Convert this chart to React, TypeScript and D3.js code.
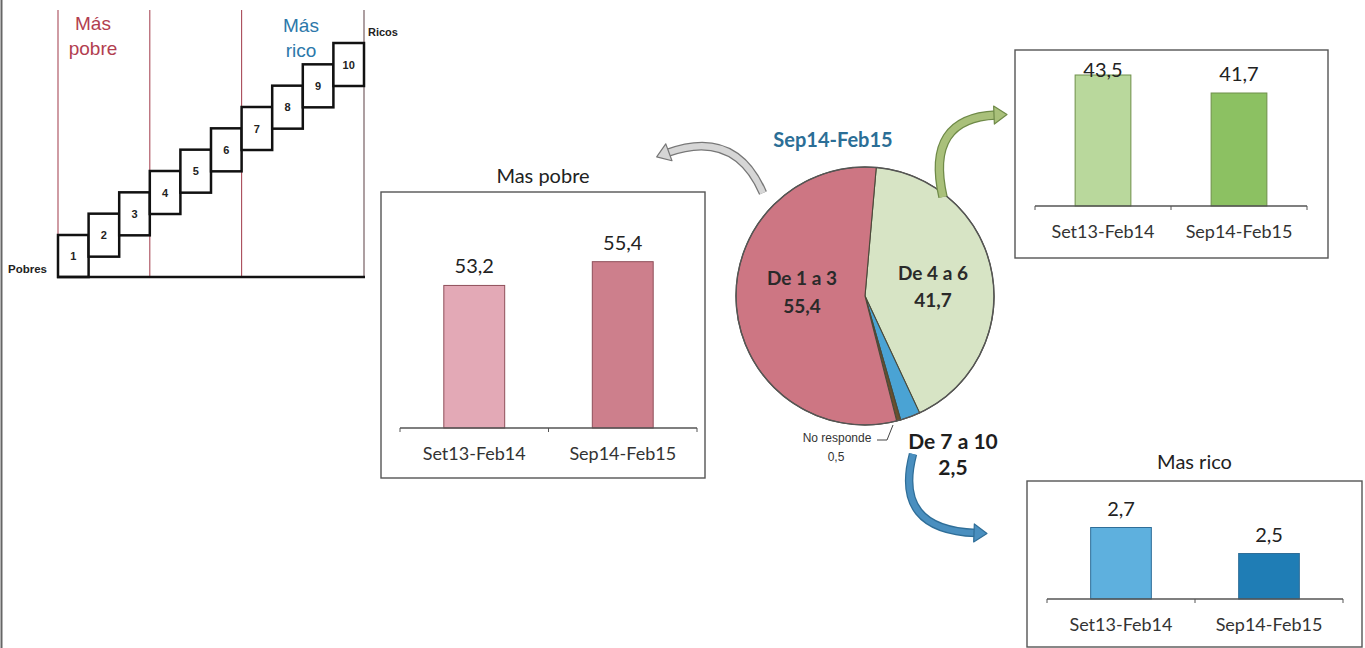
import React from 'react';
import * as d3 from 'd3';

// ---------- data ----------
const deciles = [1, 2, 3, 4, 5, 6, 7, 8, 9, 10];
const groupBounds = [1, 4, 7, 11];
const periods = ['Set13-Feb14', 'Sep14-Feb15'];
const pobreValues = [53.2, 55.4];
const medioValues = [43.5, 41.7];
const ricoValues = [2.7, 2.5];
const pieCategories = ['De 4 a 6', 'De 7 a 10', 'No responde', 'De 1 a 3'];
const pieValues = [41.7, 2.5, 0.5, 55.4];
const pieTitle = 'Sep14-Feb15';

const fmt = (v: number) => v.toFixed(1).replace('.', ',');
const PANEL_FONT = "Lato, 'Open Sans', sans-serif";
const ARIAL = "'Liberation Sans', Arial, sans-serif";

type PanelProps = {
  title?: string;
  titleY?: number;
  box: { x: number; y: number; w: number; h: number };
  axis: { x0: number; x1: number; y: number };
  domain: [number, number];
  rangeTop: number;
  values: number[];
  fills: string[];
  stroke: string;
  labelMinY?: number;
};

function BarPanel(p: PanelProps) {
  const x = d3.scaleBand<string>().domain(periods).range([p.axis.x0, p.axis.x1]).paddingInner(0.59).paddingOuter(0.295);
  const y = d3.scaleLinear().domain(p.domain).range([p.axis.y, p.rangeTop]);
  const mid = (p.axis.x0 + p.axis.x1) / 2;
  return (
    <g>
      {p.title && (
        <text x={p.box.x + p.box.w / 2} y={p.titleY} textAnchor="middle" fontFamily={PANEL_FONT} fontSize={20} fill="#222">
          {p.title}
        </text>
      )}
      <rect x={p.box.x} y={p.box.y} width={p.box.w} height={p.box.h} fill="#fff" stroke="#555" strokeWidth={1.4} />
      {periods.map((c, i) => {
        const v = p.values[i];
        const top = y(v);
        let ly = top - 12;
        if (p.labelMinY !== undefined) ly = Math.max(ly, p.labelMinY);
        return (
          <g key={c}>
            <rect x={x(c)} y={top} width={x.bandwidth()} height={p.axis.y - top} fill={p.fills[i]} stroke={p.stroke} strokeWidth={1} />
            <text x={(x(c) as number) + x.bandwidth() / 2} y={ly} textAnchor="middle" fontFamily={PANEL_FONT} fontSize={20} fill="#222">
              {fmt(v)}
            </text>
            <text x={(x(c) as number) + x.bandwidth() / 2} y={p.axis.y + 32} textAnchor="middle" fontFamily={PANEL_FONT} fontSize={18} fill="#333">
              {c}
            </text>
          </g>
        );
      })}
      <line x1={p.axis.x0} x2={p.axis.x1} y1={p.axis.y} y2={p.axis.y} stroke="#555" strokeWidth={1.3} />
      {[p.axis.x0, mid, p.axis.x1].map((tx, i) => (
        <line key={i} x1={tx} x2={tx} y1={p.axis.y} y2={p.axis.y + 4} stroke="#555" strokeWidth={1} />
      ))}
    </g>
  );
}

function Arrow({ start, ctrl, end, color, outline, width }: { start: number[]; ctrl: number[]; end: number[]; color: string; outline: string; width: number }) {
  const path = d3.path();
  path.moveTo(start[0], start[1]);
  path.quadraticCurveTo(ctrl[0], ctrl[1], end[0], end[1]);
  const dx = end[0] - ctrl[0];
  const dy = end[1] - ctrl[1];
  const len = Math.hypot(dx, dy);
  const ux = dx / len, uy = dy / len;
  const px = -uy, py = ux;
  const tip = [end[0] + ux * 11, end[1] + uy * 11];
  const b1 = [end[0] - ux * 2 + px * 9, end[1] - uy * 2 + py * 9];
  const b2 = [end[0] - ux * 2 - px * 9, end[1] - uy * 2 - py * 9];
  const tri = `M${tip[0]},${tip[1]}L${b1[0]},${b1[1]}L${b2[0]},${b2[1]}Z`;
  return (
    <g>
      <path d={path.toString()} fill="none" stroke={outline} strokeWidth={width + 2.5} strokeLinecap="butt" />
      <path d={path.toString()} fill="none" stroke={color} strokeWidth={width} strokeLinecap="butt" />
      <path d={tri} fill={color} stroke={outline} strokeWidth={1.2} strokeLinejoin="round" />
    </g>
  );
}

export default function App() {
  const W = 1365, H = 648;

  // staircase
  const stepX = d3.scaleLinear().domain([1, 11]).range([58, 364]);
  const stepTop = d3.scaleLinear().domain([1, 10]).range([235, 43]);
  const boxH = 43;
  const baseY = 277;

  // pie
  const cx = 865, cy = 296, R = 129;
  const a0 = (5 * Math.PI) / 180;
  const pieGen = d3.pie<number>().sort(null).value((d) => d).startAngle(a0).endAngle(a0 + 2 * Math.PI);
  const arcs = pieGen(pieValues);
  const arcGen = d3.arc<d3.PieArcDatum<number>>().innerRadius(0).outerRadius(R);
  const pieColors = ['#d7e4c5', '#4aa3d4', '#6b4f2c', '#cd7683'];

  return (
    <div style={{ position: 'absolute', left: 0, top: 0 }}>
      <svg width={W} height={H} style={{ display: 'block', background: '#fff' }}>
        {/* page edge */}
        <line x1={1.5} x2={1.5} y1={0} y2={H} stroke="#666" strokeWidth={2} />

        {/* ---------- staircase ---------- */}
        {groupBounds.map((g, i) => (
          <line key={g} x1={stepX(g)} x2={stepX(g)} y1={10} y2={baseY} stroke={i === 3 ? '#6a5055' : '#a84a58'} strokeWidth={1.1} />
        ))}
        {deciles.map((d) => {
          const x0 = stepX(d), x1 = stepX(d + 1);
          const t = stepTop(d);
          const b = Math.min(t + boxH, baseY);
          return (
            <g key={d}>
              <rect x={x0} y={t} width={x1 - x0} height={b - t} fill="#fff" stroke="#111" strokeWidth={2.5} />
              <text x={(x0 + x1) / 2} y={(t + b) / 2 + 4} textAnchor="middle" fontFamily={ARIAL} fontWeight="bold" fontSize={11} fill="#222">
                {d}
              </text>
            </g>
          );
        })}
        <line x1={stepX(1) - 1} x2={stepX(11) + 1} y1={baseY} y2={baseY} stroke="#111" strokeWidth={2.5} />
        <text x={8} y={273} fontFamily={ARIAL} fontWeight="bold" fontSize={11.5} fill="#222">Pobres</text>
        <text x={368} y={36} fontFamily={ARIAL} fontWeight="bold" fontSize={11} fill="#222">Ricos</text>
        <text x={93} y={30} textAnchor="middle" fontFamily={ARIAL} fontSize={19} fill="#b23e4f">Más</text>
        <text x={93} y={55} textAnchor="middle" fontFamily={ARIAL} fontSize={19} fill="#b23e4f">pobre</text>
        <text x={301} y={32} textAnchor="middle" fontFamily={ARIAL} fontSize={19} fill="#2c78aa">Más</text>
        <text x={301} y={57} textAnchor="middle" fontFamily={ARIAL} fontSize={19} fill="#2c78aa">rico</text>

        {/* ---------- bar panels ---------- */}
        <BarPanel
          title="Mas pobre"
          titleY={183}
          box={{ x: 381, y: 192, w: 324, h: 286 }}
          axis={{ x0: 400, x1: 697, y: 428 }}
          domain={[40, 60]}
          rangeTop={212}
          values={pobreValues}
          fills={['#e3a9b6', '#cd7f8c']}
          stroke="#8f4f5a"
        />
        <BarPanel
          box={{ x: 1015, y: 50, w: 313, h: 208 }}
          axis={{ x0: 1035, x1: 1307, y: 206 }}
          domain={[30.4, 45]}
          rangeTop={60}
          values={medioValues}
          fills={['#b9d89c', '#8cc162']}
          stroke="#6f8f4a"
          labelMinY={77}
        />
        <BarPanel
          title="Mas rico"
          titleY={469}
          box={{ x: 1027, y: 481, w: 335, h: 166 }}
          axis={{ x0: 1047, x1: 1343, y: 599 }}
          domain={[2.15, 2.8]}
          rangeTop={514.5}
          values={ricoValues}
          fills={['#5eb0de', '#1f7db5']}
          stroke="#2f6e98"
        />

        {/* ---------- pie ---------- */}
        <text x={833} y={147} textAnchor="middle" fontFamily={PANEL_FONT} fontWeight="bold" fontSize={20} fill="#2b6e96">{pieTitle}</text>
        <g transform={`translate(${cx},${cy})`}>
          {arcs.map((a, i) => (
            <path key={pieCategories[i]} d={arcGen(a) as string} fill={pieColors[i]} stroke="#4a4a3a" strokeWidth={1.1} />
          ))}
          <circle r={R} fill="none" stroke="#555" strokeWidth={1.4} />
          <text x={68} y={-16} textAnchor="middle" fontFamily={PANEL_FONT} fontWeight="bold" fontSize={19} fill="#2a2a2a">{pieCategories[0]}</text>
          <text x={68} y={11} textAnchor="middle" fontFamily={PANEL_FONT} fontWeight="bold" fontSize={19} fill="#2a2a2a">{fmt(pieValues[0])}</text>
          <text x={-63} y={-11} textAnchor="middle" fontFamily={PANEL_FONT} fontWeight="bold" fontSize={19} fill="#2a2a2a">{pieCategories[3]}</text>
          <text x={-63} y={17} textAnchor="middle" fontFamily={PANEL_FONT} fontWeight="bold" fontSize={19} fill="#2a2a2a">{fmt(pieValues[3])}</text>
        </g>
        <polyline points="877,440 887,440 893,425" fill="none" stroke="#444" strokeWidth={1} />
        <text x={837} y={442} textAnchor="middle" fontFamily={ARIAL} fontSize={12} fill="#333">{pieCategories[2]}</text>
        <text x={836} y={461} textAnchor="middle" fontFamily={ARIAL} fontSize={12} fill="#333">{fmt(pieValues[2])}</text>
        <text x={953} y={449} textAnchor="middle" fontFamily={PANEL_FONT} fontWeight="bold" fontSize={21} fill="#1e1e1e">{pieCategories[1]}</text>
        <text x={953} y={475} textAnchor="middle" fontFamily={PANEL_FONT} fontWeight="bold" fontSize={21} fill="#1e1e1e">{fmt(pieValues[1])}</text>

        {/* ---------- arrows ---------- */}
        <Arrow start={[763, 193]} ctrl={[735, 128]} end={[667, 153]} color="#d6d6d6" outline="#777" width={6} />
        <Arrow start={[943, 197]} ctrl={[925, 118]} end={[996, 115]} color="#a9c07a" outline="#6f8a48" width={7} />
        <Arrow start={[913, 454]} ctrl={[893, 530]} end={[976, 533]} color="#4a8fbf" outline="#2f6e98" width={6} />
      </svg>
    </div>
  );
}
